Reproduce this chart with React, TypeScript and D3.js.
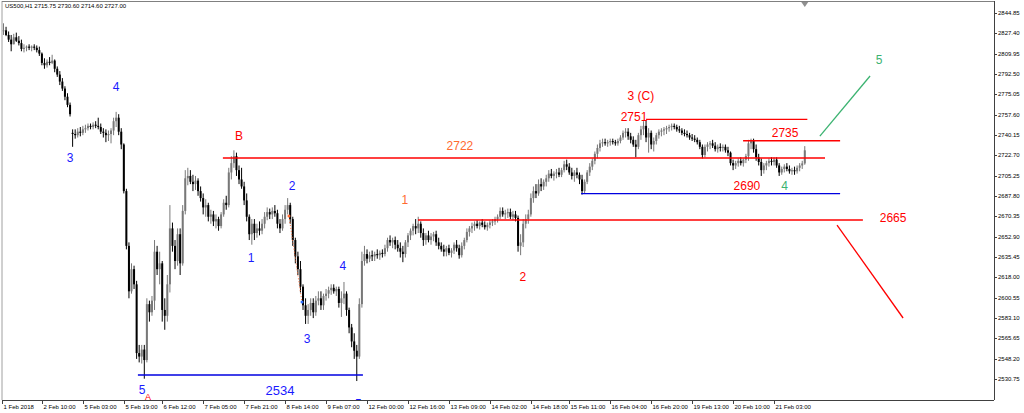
import React from "react";
import * as d3 from "d3";

// ---- Data (US500, H1) ----
const closes = [
  2830, 2826, 2822, 2818, 2824, 2821, 2819, 2814, 2815, 2816,
  2815, 2816, 2815, 2813, 2810, 2802, 2800, 2803, 2802, 2804,
  2797, 2792, 2786, 2780, 2773, 2766, 2758, 2741, 2740, 2743,
  2742, 2745, 2746, 2748, 2747, 2749, 2748, 2747, 2743, 2742,
  2740, 2741, 2744, 2752, 2755, 2743, 2732, 2692, 2645, 2606,
  2625, 2612, 2553, 2550, 2556, 2547, 2595, 2588, 2598, 2640,
  2625, 2630, 2590, 2585, 2612, 2660, 2645, 2632, 2655, 2630,
  2675, 2703, 2705, 2700, 2698, 2701, 2692, 2686, 2678, 2680,
  2670, 2672, 2666, 2668, 2662, 2672, 2682, 2680, 2708, 2716,
  2722, 2710, 2702, 2696, 2684, 2670, 2655, 2664, 2656, 2660,
  2658, 2664, 2670, 2674, 2672, 2675, 2673, 2664, 2660, 2668,
  2676, 2680, 2668, 2650, 2636, 2625, 2610, 2594, 2585, 2590,
  2596, 2588, 2598, 2600, 2594, 2602, 2604, 2607, 2609, 2606,
  2608, 2596, 2600, 2604, 2590, 2575, 2563, 2555, 2550, 2595,
  2632, 2638, 2634, 2637, 2636, 2638, 2637, 2639, 2638, 2643,
  2650, 2648, 2650, 2646, 2643, 2640, 2638, 2648, 2654, 2658,
  2662, 2660, 2664, 2656, 2650, 2654, 2650, 2653, 2655, 2648,
  2645, 2642, 2640, 2643, 2639, 2641, 2646, 2643, 2637, 2645,
  2650, 2657, 2660, 2662, 2664, 2662, 2665, 2663, 2661, 2663,
  2665, 2666, 2668, 2670, 2675, 2672, 2673, 2674, 2670, 2672,
  2669, 2645, 2648, 2664, 2668, 2672, 2686, 2692, 2690, 2698,
  2696, 2700, 2703, 2707, 2705, 2707, 2708, 2706, 2710, 2715,
  2713, 2708, 2705, 2708, 2706, 2702, 2692, 2700, 2708, 2713,
  2718, 2724, 2729, 2733, 2734, 2733, 2734, 2735, 2734, 2733,
  2735, 2738, 2742, 2743, 2739, 2736, 2732, 2730, 2740, 2745,
  2748, 2738, 2742, 2732, 2735, 2740, 2743, 2744, 2745, 2746,
  2747, 2748, 2747, 2745, 2744, 2742, 2741, 2740, 2738, 2737,
  2736, 2734, 2730, 2723, 2730, 2732, 2733, 2731, 2728, 2730,
  2729, 2730, 2727, 2725, 2716, 2714, 2716, 2718, 2716, 2719,
  2722, 2733, 2735, 2728, 2721, 2717, 2710, 2714, 2716, 2718,
  2717, 2719, 2714, 2708, 2711, 2713, 2711, 2709, 2710, 2709,
  2712, 2714, 2715.75, 2727.0,
];

const highs = [
  2836, 2833, 2829, 2826, 2827, 2828, 2825, 2822, 2818, 2817,
  2818, 2817, 2818, 2817, 2816, 2811, 2806, 2805, 2807, 2809,
  2805, 2799, 2795, 2789, 2782, 2776, 2768, 2745, 2745, 2746,
  2747, 2748, 2749, 2750, 2750, 2751, 2752, 2755, 2750, 2746,
  2745, 2744, 2746, 2755, 2760, 2758, 2746, 2733, 2694, 2648,
  2630, 2628, 2615, 2560, 2560, 2560, 2600, 2598, 2602, 2650,
  2645, 2640, 2632, 2600, 2620, 2680, 2665, 2650, 2660, 2660,
  2680, 2710, 2712, 2710, 2706, 2705, 2703, 2696, 2690, 2685,
  2682, 2676, 2675, 2672, 2670, 2674, 2685, 2688, 2712, 2722,
  2727, 2725, 2714, 2712, 2700, 2690, 2672, 2668, 2668, 2664,
  2666, 2668, 2674, 2678, 2677, 2678, 2680, 2676, 2668, 2672,
  2680, 2686, 2682, 2670, 2652, 2640, 2632, 2612, 2600, 2595,
  2600, 2600, 2602, 2606, 2606, 2604, 2608, 2610, 2612, 2612,
  2610, 2610, 2606, 2614, 2606, 2592, 2578, 2570, 2560, 2600,
  2640, 2645, 2642, 2640, 2641, 2640, 2642, 2641, 2642, 2646,
  2652, 2654, 2652, 2653, 2650, 2648, 2645, 2650, 2656, 2660,
  2664, 2668, 2670, 2666, 2660, 2656, 2658, 2656, 2657, 2658,
  2652, 2648, 2646, 2645, 2646, 2643, 2648, 2650, 2646, 2648,
  2652, 2660, 2662, 2665, 2666, 2667, 2666, 2668, 2666, 2665,
  2667, 2668, 2670, 2672, 2678, 2678, 2676, 2677, 2677, 2675,
  2675, 2671, 2655, 2668, 2672, 2676, 2690, 2696, 2698, 2702,
  2703, 2702, 2706, 2710, 2711, 2709, 2711, 2712, 2712, 2718,
  2719, 2716, 2712, 2710, 2712, 2708, 2706, 2702, 2710, 2716,
  2720, 2726, 2732, 2736, 2737, 2737, 2736, 2737, 2737, 2736,
  2737, 2740, 2744, 2746, 2746, 2742, 2739, 2736, 2742, 2748,
  2752, 2753, 2746, 2744, 2738, 2742, 2745, 2746, 2747, 2748,
  2749, 2750, 2750, 2749, 2748, 2746, 2745, 2744, 2742, 2741,
  2740, 2738, 2736, 2732, 2732, 2734, 2735, 2736, 2734, 2732,
  2733, 2732, 2732, 2730, 2726, 2719, 2718, 2720, 2721, 2720,
  2724, 2736, 2737, 2737, 2732, 2724, 2720, 2716, 2718, 2720,
  2721, 2721, 2721, 2716, 2713, 2715, 2716, 2714, 2712, 2713,
  2714, 2716, 2718, 2730.6,
];

const lows = [
  2826, 2825, 2820, 2812, 2818, 2820, 2817, 2812, 2811, 2812,
  2813, 2812, 2813, 2811, 2808, 2800, 2797, 2798, 2800, 2801,
  2794, 2790, 2783, 2778, 2770, 2764, 2756, 2730, 2737, 2738,
  2739, 2740, 2742, 2744, 2745, 2745, 2746, 2745, 2741, 2738,
  2734, 2735, 2733, 2740, 2747, 2740, 2728, 2690, 2642, 2600,
  2604, 2608, 2548, 2545, 2544, 2531, 2545, 2580, 2585, 2590,
  2620, 2612, 2580, 2573, 2580, 2605, 2640, 2625, 2628, 2620,
  2628, 2672, 2697, 2698, 2692, 2693, 2688, 2683, 2672, 2670,
  2666, 2664, 2662, 2660, 2658, 2660, 2670, 2676, 2678, 2702,
  2712, 2705, 2698, 2694, 2680, 2666, 2650, 2646, 2650, 2652,
  2654, 2655, 2660, 2667, 2668, 2668, 2670, 2660, 2656, 2658,
  2664, 2672, 2664, 2645, 2630, 2620, 2605, 2590, 2578, 2578,
  2585, 2583, 2585, 2594, 2590, 2590, 2598, 2600, 2603, 2604,
  2602, 2592, 2584, 2595, 2585, 2570, 2558, 2548, 2529, 2548,
  2592, 2628, 2630, 2631, 2632, 2632, 2634, 2633, 2635, 2636,
  2640, 2645, 2643, 2642, 2640, 2635, 2631, 2635, 2644, 2650,
  2654, 2655, 2656, 2652, 2645, 2646, 2648, 2646, 2649, 2645,
  2642, 2640, 2636, 2636, 2637, 2635, 2638, 2640, 2634, 2635,
  2642, 2648, 2653, 2656, 2658, 2660, 2659, 2661, 2659, 2658,
  2660, 2662, 2663, 2665, 2668, 2670, 2668, 2669, 2668, 2667,
  2666, 2640, 2637, 2644, 2660, 2664, 2670, 2682, 2686, 2688,
  2692, 2693, 2696, 2700, 2703, 2701, 2703, 2704, 2704, 2708,
  2710, 2706, 2702, 2700, 2703, 2698, 2689, 2690, 2698, 2705,
  2710, 2715, 2720, 2726, 2730, 2731, 2730, 2731, 2732, 2731,
  2731, 2733, 2736, 2738, 2736, 2733, 2730, 2721, 2728, 2736,
  2740, 2734, 2725, 2728, 2726, 2732, 2737, 2739, 2740, 2741,
  2743, 2744, 2745, 2743, 2742, 2740, 2739, 2738, 2736, 2735,
  2734, 2732, 2728, 2720, 2721, 2726, 2728, 2729, 2726, 2725,
  2726, 2726, 2725, 2722, 2714, 2710, 2711, 2713, 2714, 2713,
  2716, 2718, 2728, 2725, 2718, 2714, 2705, 2707, 2710, 2713,
  2714, 2714, 2712, 2705, 2706, 2708, 2709, 2707, 2706, 2706,
  2707, 2709, 2711, 2714.6,
];

// bars that open with a gap (index, open)
const gapOpens: [number, number][] = [[27, 2742]];

const priceTicks = [
  2844.85, 2827.4, 2809.95, 2792.5, 2775.05, 2757.6, 2740.15, 2722.7, 2705.25,
  2687.8, 2670.35, 2652.9, 2635.45, 2618.0, 2600.55, 2583.1, 2565.65, 2548.2, 2530.75,
];

const timeTickIdx = [-0.6, 15, 31, 47, 62, 78, 94, 110, 126, 142, 158, 174, 190, 206, 221, 237, 253, 269, 285, 301];
const timeTickLabels = [
  "1 Feb 2018", "2 Feb 10:00", "5 Feb 03:00", "5 Feb 19:00", "6 Feb 12:00", "7 Feb 05:00",
  "7 Feb 21:00", "8 Feb 14:00", "9 Feb 07:00", "12 Feb 00:00", "12 Feb 16:00", "13 Feb 09:00",
  "14 Feb 02:00", "14 Feb 18:00", "15 Feb 11:00", "16 Feb 04:00", "16 Feb 20:00", "19 Feb 13:00",
  "20 Feb 10:00", "21 Feb 03:00",
];

const RED = "#ff0000";
const BLUE = "#0000e0";
const ORANGE = "#ff6a30";
const GREEN = "#3cb371";
const LBLUE = "#1a1aff";

// horizontal levels: price, from bar, to bar
const levels = [
  { price: 2720.4, from: 85.7, to: 320.9, color: RED },
  { price: 2753.6, from: 251, to: 314, color: RED },
  { price: 2735.2, from: 288.9, to: 326.8, color: RED },
  { price: 2689.8, from: 225.6, to: 326.8, color: BLUE },
  { price: 2667.2, from: 161.9, to: 335.7, color: RED },
  { price: 2534.2, from: 52.5, to: 140.4, color: BLUE },
];

// projection lines: [bar, price] -> [bar, price]
const projections = [
  { a: [318.9, 2739.2], b: [338.5, 2790.8], color: GREEN },
  { a: [325.6, 2662.9], b: [351.4, 2583.1], color: RED },
];

const waveLabels = [
  { t: "4", i: 44.0, p: 2781.3, c: LBLUE, s: 12 },
  { t: "3", i: 26.0, p: 2720.4, c: LBLUE, s: 12 },
  { t: "5", i: 54.1, p: 2521.3, c: LBLUE, s: 12 },
  { t: "A", i: 56.4, p: 2515.3, c: RED, s: 9 },
  { t: "B", i: 92.0, p: 2739.3, c: RED, s: 12 },
  { t: "2", i: 112.7, p: 2696.4, c: LBLUE, s: 12 },
  { t: "1", i: 96.7, p: 2634.6, c: LBLUE, s: 12 },
  { t: "3", i: 118.6, p: 2565.1, c: LBLUE, s: 12 },
  { t: "4", i: 132.6, p: 2627.7, c: LBLUE, s: 12 },
  { t: "2534", i: 108.0, p: 2521.3, c: LBLUE, s: 13 },
  { t: "1", i: 156.8, p: 2684.4, c: ORANGE, s: 12 },
  { t: "2722", i: 178.3, p: 2730.7, c: ORANGE, s: 12 },
  { t: "2", i: 202.9, p: 2618.3, c: RED, s: 12 },
  { t: "3 (C)", i: 249.0, p: 2773.6, c: RED, s: 12 },
  { t: "2751", i: 246.3, p: 2755.6, c: RED, s: 12 },
  { t: "2735", i: 305.3, p: 2741.9, c: RED, s: 12 },
  { t: "2690", i: 290.4, p: 2696.4, c: RED, s: 12 },
  { t: "4", i: 305.1, p: 2696.4, c: GREEN, s: 12 },
  { t: "2665", i: 347.5, p: 2668.9, c: RED, s: 12 },
  { t: "5", i: 342.0, p: 2804.5, c: GREEN, s: 12 },
];

// wave 5 label that sits below the price window (only its top shows)
const hiddenLabel = { t: "5", i: 138.6, p: 2509.0, c: LBLUE, s: 12 };

// dotted helper segment on wave 2 -> 3
const helperSeg = { a: [111.5, 2670.6], b: [116.6, 2596.8] };

const HEADER = "US500,H1  2715.75 2730.60 2714.60 2727.00";

export default function App() {
  const W = 1024;
  const H = 413;
  const left = 2;
  const right = 994;
  const top = 1;
  const bottom = 400;

  const x = d3.scaleLinear().domain([0, 313]).range([3.5, 3.5 + 313 * 2.56]);
  const y = d3.scaleLinear().domain([2530.75, 2844.85]).range([379, 13]);

  const gapMap = new Map(gapOpens);
  const bars = closes.map((c, i) => {
    const o = gapMap.has(i) ? (gapMap.get(i) as number) : i === 0 ? c : closes[i - 1];
    const h = Math.max(highs[i], o, c);
    const l = Math.min(lows[i], o, c);
    return { i, o, h, l, c };
  });

  const font = "'Liberation Sans', Arial, sans-serif";
  const line = d3.line<number[]>().x((d) => x(d[0])).y((d) => y(d[1]));

  return (
    <svg
      width={W}
      height={H}
      style={{ position: "absolute", left: 0, top: 0, background: "#fff" }}
      fontFamily={font}
    >
      <defs>
        <clipPath id="plot">
          <rect x={left} y={top} width={right - left} height={bottom - top} />
        </clipPath>
      </defs>
      <rect x={0} y={0} width={W} height={H} fill="#fff" />

      <g clipPath="url(#plot)">
        {/* candles */}
        {bars.map((b) => {
          const up = b.c >= b.o;
          const col = up ? "#787878" : "#000";
          const yTop = y(Math.max(b.o, b.c));
          const yBot = y(Math.min(b.o, b.c));
          return (
            <g key={b.i}>
              <line x1={x(b.i)} x2={x(b.i)} y1={y(b.h)} y2={y(b.l)} stroke={col} strokeWidth={1} />
              <rect x={x(b.i) - 1} y={yTop} width={2} height={Math.max(1, yBot - yTop)} fill={col} />
            </g>
          );
        })}

        {/* levels */}
        {levels.map((lv, k) => (
          <line
            key={"lv" + k}
            x1={x(lv.from)}
            x2={x(lv.to)}
            y1={y(lv.price)}
            y2={y(lv.price)}
            stroke={lv.color}
            strokeWidth={1.4}
          />
        ))}

        {projections.map((pr, k) => (
          <path key={"pr" + k} d={line([pr.a, pr.b]) || ""} stroke={pr.color} strokeWidth={1.3} fill="none" />
        ))}

        <path
          d={line([helperSeg.a, helperSeg.b]) || ""}
          stroke={ORANGE}
          strokeWidth={1}
          strokeDasharray="1,2"
          fill="none"
        />
        <circle cx={x(helperSeg.a[0])} cy={y(helperSeg.a[1])} r={1.5} fill={ORANGE} />
        <circle cx={x(helperSeg.b[0])} cy={y(helperSeg.b[1])} r={1.5} fill="#3070ff" />

        {waveLabels.map((lb, k) => (
          <text
            key={"lb" + k}
            x={x(lb.i)}
            y={y(lb.p)}
            fill={lb.c}
            fontSize={lb.s}
            textAnchor="middle"
            dominantBaseline="central"
          >
            {lb.t}
          </text>
        ))}

        {/* chart shift marker */}
        <path
          d={`M${x(closes.length - 1) - 3.5},${top + 1} L${x(closes.length - 1) + 3.5},${top + 1} L${x(closes.length - 1)},${top + 6} Z`}
          fill="#909090"
        />
      </g>

      {/* partially hidden label, clipped to its visible top strip */}
      <svg x={x(hiddenLabel.i) - 5} y={bottom - 2} width={10} height={2} overflow="hidden">
        <text
          x={5}
          y={y(hiddenLabel.p) - (bottom - 2)}
          fill={hiddenLabel.c}
          fontSize={hiddenLabel.s}
          textAnchor="middle"
          dominantBaseline="central"
        >
          {hiddenLabel.t}
        </text>
      </svg>

      {/* header */}
      <text x={5} y={8} fontSize={6} fill="#000">
        {HEADER}
      </text>

      {/* frame */}
      <line x1={left} x2={left} y1={top} y2={bottom} stroke="#a0a0a0" strokeWidth={1} />
      <line x1={left} x2={right} y1={top + 0.5} y2={top + 0.5} stroke="#808080" strokeWidth={1} />
      <line x1={right + 0.5} x2={right + 0.5} y1={top} y2={bottom} stroke="#404040" strokeWidth={1} />
      <line x1={left} x2={right} y1={bottom + 0.5} y2={bottom + 0.5} stroke="#404040" strokeWidth={1} />

      {/* price axis */}
      {priceTicks.map((p) => (
        <g key={"pt" + p}>
          <line x1={right} x2={right + 3} y1={Math.round(y(p)) + 0.5} y2={Math.round(y(p)) + 0.5} stroke="#404040" />
          <text x={right + 4} y={y(p)} fontSize={6} fill="#000" dominantBaseline="central">
            {p.toFixed(2)}
          </text>
        </g>
      ))}

      {/* time axis */}
      {timeTickIdx.map((ti, k) => {
        const xx = Math.max(left, Math.round(x(ti))) + 0.5;
        return (
          <g key={"tt" + k}>
            <line x1={xx} x2={xx} y1={bottom} y2={bottom + 4} stroke="#404040" />
            <text x={xx + 1} y={408.5} fontSize={6} fill="#000">
              {timeTickLabels[k]}
            </text>
          </g>
        );
      })}
    </svg>
  );
}
